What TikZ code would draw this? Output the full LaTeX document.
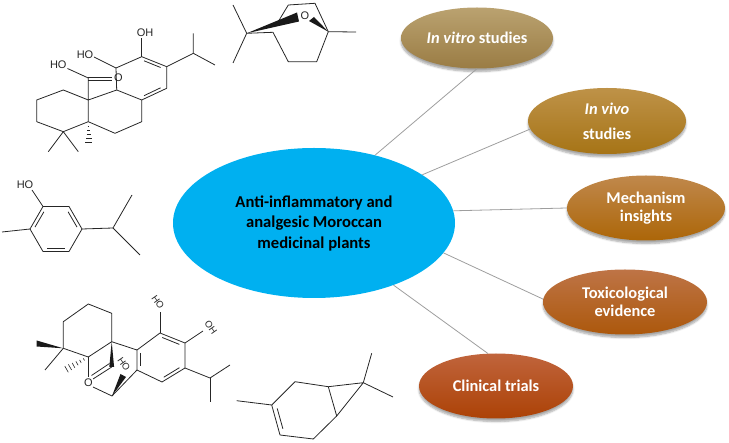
\documentclass[tikz,border=0pt]{standalone}
\usepackage{fontspec}
\setmainfont{Carlito}
\newfontfamily\chemfont{Liberation Sans}
\usetikzlibrary{shapes.geometric,shadows.blur}
\definecolor{hubcyan}{RGB}{0,176,240}
\definecolor{vitroH}{RGB}{186,162,112}
\definecolor{vitroB}{RGB}{154,124,68}
\definecolor{vivoH}{RGB}{190,146,72}
\definecolor{vivoB}{RGB}{166,116,22}
\definecolor{mecaH}{RGB}{192,136,76}
\definecolor{mecaB}{RGB}{172,102,8}
\definecolor{toxH}{RGB}{190,116,70}
\definecolor{toxB}{RGB}{172,88,12}
\definecolor{cliniH}{RGB}{192,100,60}
\definecolor{cliniB}{RGB}{172,66,6}
\begin{document}
\begin{tikzpicture}[x=1pt,y=-1pt]
\tikzset{hub/.style={ellipse, fill=hubcyan, inner sep=0pt, minimum width=282pt, minimum height=150pt, align=center, font=\fontsize{16.6}{20.5}\selectfont\bfseries}}
\tikzset{theme/.style={ellipse, inner sep=0pt, align=center, text=white, font=\fontsize{16.4}{18.5}\selectfont\bfseries, blur shadow={shadow xshift=0pt, shadow yshift=-3pt, shadow blur steps=6, shadow opacity=35}}}
\tikzset{lien/.style={draw=black!38, line width=0.8pt}}
\tikzset{liaison/.style={line width=0.8pt, draw=black!85, line join=round}}
\tikzset{lbl/.style={font=\chemfont\fontsize{11}{11}\selectfont, inner sep=0pt, text=black!85}}
\tikzset{lblr/.style={lbl, rotate=-55, font=\chemfont\fontsize{9.5}{9.5}\selectfont}}
\useasboundingbox (0,0) rectangle (729,443);
\node[hub] (hub) at (314,223) {Anti-inflammatory and\\analgesic Moroccan\\medicinal plants};
\node[theme, top color=vitroH, bottom color=vitroB, minimum width=152pt, minimum height=61pt] (vitro) at (477,38) {\textit{In vitro} studies};
\node[theme, top color=vivoH, bottom color=vivoB, minimum width=158pt, minimum height=66pt, font=\fontsize{16.4}{25}\selectfont\bfseries] (vivo) at (607,121) {\textit{In vivo}\\studies};
\node[theme, top color=mecaH, bottom color=mecaB, minimum width=158pt, minimum height=65pt] (meca) at (646,208) {Mechanism\\insights};
\node[theme, top color=toxH, bottom color=toxB, minimum width=164pt, minimum height=65pt] (tox) at (625,302) {Toxicological\\evidence};
\node[theme, top color=cliniH, bottom color=cliniB, minimum width=154pt, minimum height=65pt] (clini) at (496,386) {Clinical trials};
\draw[lien] (hub.48) -- (vitro.south);
\draw[lien] (hub.24) -- (vivo.186);
\draw[lien] (hub.5.6) -- (meca.west);
\draw[lien] (hub.-13) -- (tox.178);
\draw[lien] (hub.-38) -- (clini.104);
\draw[liaison] (141.7,56.7) -- (166.7,66.7) -- (166.7,88.3) -- (141.7,100) -- (116.7,90) -- (116,68) -- cycle;
\draw[liaison] (144,60.8) -- (160.6,67.5);
\draw[liaison] (160.6,87.8) -- (144,95.7);
\draw[liaison] (141.7,56.7) -- (141.7,38);
\draw[liaison] (166.7,66.7) -- (193.3,53.3) -- (193.3,33.3);
\draw[liaison] (193.3,53.3) -- (215,65);
\draw[liaison] (116,68) -- (94,57);
\draw[liaison] (88.3,78) -- (67.5,68.5);
\draw[liaison] (88.3,77.3) -- (112,77.3);
\draw[liaison] (88.3,80) -- (112,80);
\draw[liaison] (88.3,77.3) -- (88.3,100) -- (116.7,90);
\draw[liaison] (88.3,100) -- (63.3,90) -- (36.7,100) -- (36.7,121.7) -- (63.3,131.7) -- (88.3,121.7) -- cycle;
\draw[liaison] (63.3,131.7) -- (48.3,151.7);
\draw[liaison] (63.3,131.7) -- (78.3,151.7);
\draw[liaison] (88.3,121.7) -- (115,133.3) -- (141.7,121.7) -- (141.7,100);
\draw[line width=0.6pt, black!85] (87.6,126) -- (89.2,126) (87.1,130) -- (89.9,130) (86.5,134) -- (90.7,134) (86,138) -- (91.5,138) (85.4,142) -- (92.3,142);
\node[lbl] (oh1) at (145,32.7) {OH};
\node[lbl] (ho1) at (85,55) {HO};
\node[lbl] (ho2) at (58.3,65) {HO};
\node[lbl] (o1) at (118.3,77.3) {O};
\draw[liaison] (246.7,33.3) -- (233,5);
\draw[liaison] (246.7,33.3) -- (233,63);
\draw[liaison] (246.7,33.3) -- (273,32.3) -- (288.3,61.7) -- (316.7,61.7) -- (328.3,31.7) -- (356,32);
\draw[liaison] (278,22) -- (288.3,5) -- (315,3.3) -- (328.3,31.7);
\fill[black!90] (246.7,33.3) -- (297,12.5) -- (299,21.5) -- cycle;
\fill[black!90] (309,21) -- (314,17) -- (328.3,31.7) -- cycle;
\node[lbl, fill=white, inner sep=0.5pt] (o2) at (305,16) {O};
\draw[liaison] (43,206.5) -- (69,206.5) -- (82,229) -- (69,251.5) -- (43,251.5) -- (30,229) -- cycle;
\draw[liaison] (68.1,211.8) -- (77,227.1);
\draw[liaison] (64.8,248.1) -- (47.2,248.1);
\draw[liaison] (35,227.1) -- (43.9,211.8);
\draw[liaison] (43,206.5) -- (32,190);
\draw[liaison] (30,229) -- (2,232);
\draw[liaison] (82,229) -- (113,228) -- (132,195);
\draw[liaison] (113,228) -- (140,255);
\node[lbl] (ho3) at (25,185) {HO};
\draw[liaison] (160,333) -- (185,343) -- (185,368) -- (162,382) -- (137,370) -- (137,350) -- cycle;
\draw[liaison] (162.3,337.5) -- (179.3,344.4);
\draw[liaison] (179.4,367.7) -- (163.8,377.2);
\draw[liaison] (140.6,352.9) -- (140.6,366.5);
\draw[liaison] (160,333) -- (160,312);
\draw[liaison] (185,343) -- (203,331);
\draw[liaison] (185,368) -- (210,378) -- (230,365);
\draw[liaison] (210,378) -- (210,402);
\draw[liaison] (88.3,304) -- (111.7,313.3) -- (111.7,341.7) -- (88.3,357) -- (63.3,348.3) -- (63.3,321.7) -- cycle;
\draw[liaison] (63.3,348.3) -- (45,370);
\fill[black!90] (63.3,348.3) -- (36.7,340.5) -- (36.7,346.5) -- cycle;
\draw[line width=0.6pt, black!85] (83.3,358.4) -- (84.5,360.5) (79.6,359.9) -- (81.2,362.9) (75.9,361.4) -- (78.1,365.2) (72.2,362.9) -- (74.8,367.7) (68.4,364.4) -- (71.6,370) (64.8,366.1) -- (68.3,372.3);
\draw[liaison] (111.7,341.7) -- (137,350);
\fill[black!90] (111.7,341.7) -- (109.3,367) -- (114.1,367) -- cycle;
\draw[liaison] (111.7,367) -- (93,379);
\draw[liaison] (109.5,363.5) -- (91.5,375.5);
\draw[liaison] (88.3,357) -- (88.3,377);
\draw[liaison] (93,387) -- (112,396) -- (137,370);
\fill[black!90] (112,396) -- (120.5,374) -- (126,377) -- cycle;
\node[lbl] (o3) at (88.3,383) {O};
\node[lblr] (ho4) at (158,302) {HO};
\node[lblr] (oh4) at (211,327) {OH};
\node[lblr] (ho5) at (124,364) {HO};
\draw[liaison] (271.7,405) -- (295,381.7) -- (328.3,386.7) -- (336.7,416) -- (313.3,439) -- (280,435) -- cycle;
\draw[liaison] (236.7,400.7) -- (271.7,405);
\draw[liaison] (277.2,408.4) -- (282.9,428.8);
\draw[liaison] (328.3,386.7) -- (363.3,382.7) -- (336.7,416);
\draw[liaison] (363.3,382.7) -- (371.7,353.3);
\draw[liaison] (363.3,382.7) -- (393,397);
\end{tikzpicture}
\end{document}
